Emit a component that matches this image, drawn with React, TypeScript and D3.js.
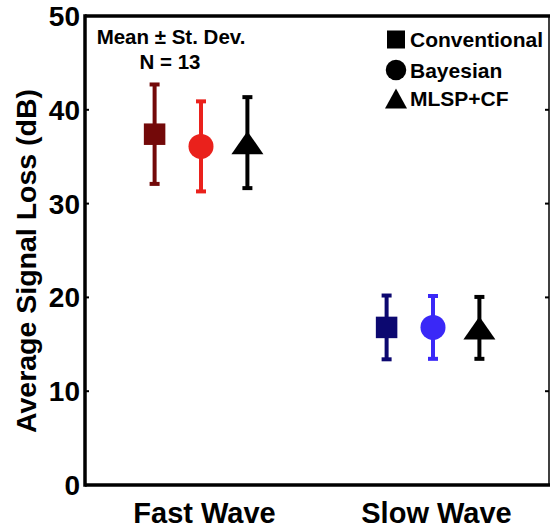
import React from "react";
import * as d3 from "d3";

const categories = ["Fast Wave", "Slow Wave"];
const methods = ["Conventional", "Bayesian", "MLSP+CF"];
const conventionalMean = [37.4, 16.8];
const conventionalSD = [5.3, 3.4];
const bayesianMean = [36.1, 16.8];
const bayesianSD = [4.8, 3.35];
const mlspMean = [36.5, 16.75];
const mlspSD = [4.85, 3.3];
const yTicks = [0, 10, 20, 30, 40, 50];

const conventionalColors = ["#730909", "#0c0870"];
const bayesianColors = ["#ea211c", "#3a28f7"];
const mlspColors = ["#000000", "#000000"];

const FONT = "'Liberation Sans', Arial, Helvetica, sans-serif";

const W = 552;
const H = 530;
const left = 85;
const right = 549;
const top = 16;
const bottom = 485;

export default function App() {
  const x = d3.scaleLinear().domain([0.5, 2.5]).range([left, right]);
  const y = d3.scaleLinear().domain([0, 50]).range([bottom, top]);
  const offsets = [-0.2, 0, 0.2];

  const series = [
    { name: methods[0], mean: conventionalMean, sd: conventionalSD, colors: conventionalColors, shape: "square" },
    { name: methods[1], mean: bayesianMean, sd: bayesianSD, colors: bayesianColors, shape: "circle" },
    { name: methods[2], mean: mlspMean, sd: mlspSD, colors: mlspColors, shape: "triangle" },
  ];

  const marker = (shape: string, cx: number, cy: number, fill: string, w: number, h: number) => {
    if (shape === "square") {
      return <rect x={cx - w / 2} y={cy - h / 2} width={w} height={h} fill={fill} />;
    }
    if (shape === "circle") {
      return <circle cx={cx} cy={cy} r={w / 2} fill={fill} />;
    }
    const p = d3.path();
    p.moveTo(cx, cy - h / 2);
    p.lineTo(cx + w / 2, cy + h / 2);
    p.lineTo(cx - w / 2, cy + h / 2);
    p.closePath();
    return <path d={p.toString()} fill={fill} />;
  };

  const dataSize: Record<string, [number, number]> = {
    square: [21.5, 21.5],
    circle: [25, 25],
    triangle: [32, 23],
  };
  const legendSize: Record<string, [number, number]> = {
    square: [18, 18],
    circle: [20.5, 20.5],
    triangle: [22, 20],
  };

  const legendX = 396;
  const legendY = [39.5, 70, 98.5];

  return (
    <svg width={W} height={H} style={{ position: "absolute", left: 0, top: 0, background: "#fff" }} fontFamily={FONT}>
      <rect x={0} y={0} width={W} height={H} fill="#fff" />
      {/* right frame thin */}
      <line x1={right} x2={right} y1={top} y2={bottom} stroke="#000" strokeWidth={1.5} />
      {/* right ticks */}
      {yTicks.map((t) => (
        <line key={"rt" + t} x1={right} x2={right - 4} y1={y(t)} y2={y(t)} stroke="#000" strokeWidth={2} />
      ))}
      {/* left ticks inward */}
      {yTicks.map((t) => (
        <line key={"lt" + t} x1={left} x2={left + 4} y1={y(t)} y2={y(t)} stroke="#000" strokeWidth={2} />
      ))}
      {/* top, left, bottom thick */}
      <line x1={left} x2={right + 1} y1={top} y2={top} stroke="#000" strokeWidth={3.5} />
      <line x1={left} x2={left} y1={top - 1.75} y2={bottom + 1.75} stroke="#000" strokeWidth={3.5} />
      <line x1={left} x2={right + 1} y1={bottom} y2={bottom} stroke="#000" strokeWidth={3.5} />

      {/* y tick labels */}
      {yTicks.map((t) => (
        <text key={"yl" + t} x={left - 5} y={y(t)} dy="0.36em" textAnchor="end" fontSize={28} fontWeight="bold" fill="#000">
          {t}
        </text>
      ))}

      {/* y label */}
      <text transform={`translate(36, 261) rotate(-90)`} textAnchor="middle" fontSize={28.5} fontWeight="bold" fill="#000">
        Average Signal Loss (dB)
      </text>

      {/* x category labels */}
      {categories.map((c, i) => (
        <text key={c} x={x(i + 1) + 3.5} y={523} textAnchor="middle" fontSize={29} fontWeight="bold" fill="#000">
          {c}
        </text>
      ))}

      {/* annotation */}
      <text x={171} y={43.5} textAnchor="middle" fontSize={20.5} fontWeight="bold" fill="#000">
        Mean ± St. Dev.
      </text>
      <text x={170} y={68.5} textAnchor="middle" fontSize={20.5} fontWeight="bold" fill="#000">
        N = 13
      </text>

      {/* data */}
      {series.map((s, si) =>
        categories.map((c, ci) => {
          const cx = x(ci + 1 + offsets[si]);
          const m = s.mean[ci];
          const sd = s.sd[ci];
          const col = s.colors[ci];
          const capW = 10;
          const [mw, mh] = dataSize[s.shape];
          return (
            <g key={s.name + c}>
              <line x1={cx} x2={cx} y1={y(m + sd)} y2={y(m - sd)} stroke={col} strokeWidth={4} />
              <line x1={cx - capW / 2} x2={cx + capW / 2} y1={y(m + sd)} y2={y(m + sd)} stroke={col} strokeWidth={4} />
              <line x1={cx - capW / 2} x2={cx + capW / 2} y1={y(m - sd)} y2={y(m - sd)} stroke={col} strokeWidth={4} />
              {marker(s.shape, cx, y(m), col, mw, mh)}
            </g>
          );
        })
      )}

      {/* legend */}
      {series.map((s, i) => {
        const [lw, lh] = legendSize[s.shape];
        return (
          <g key={"lg" + s.name}>
            {marker(s.shape, legendX, legendY[i], "#000", lw, lh)}
            <text x={410} y={legendY[i] + 7.5} fontSize={21} fontWeight="bold" fill="#000">
              {s.name}
            </text>
          </g>
        );
      })}
    </svg>
  );
}
